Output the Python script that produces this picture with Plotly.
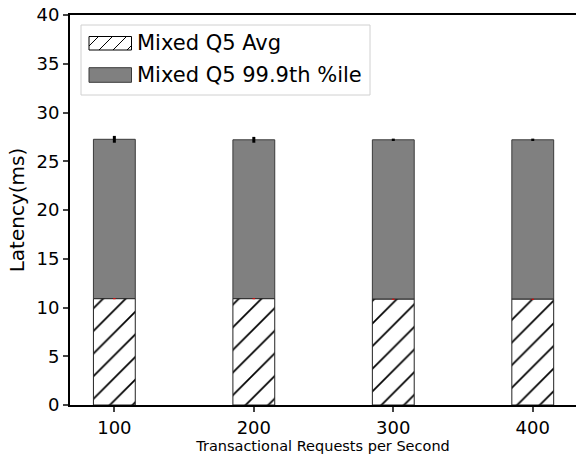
import plotly.graph_objects as go

rps = [100, 200, 300, 400]
avg_latency = [10.9, 10.9, 10.85, 10.85]
avg_err = [0.05, 0.05, 0.05, 0.05]
p999_latency = [27.25, 27.2, 27.2, 27.2]
p999_err = [0.35, 0.3, 0.12, 0.12]
tick_vals = [100, 200, 300, 400]
tick_text = ["100", "200", "300", "400"]
series_names = ["Mixed Q5 Avg", "Mixed Q5 99.9th %ile"]

W, H = 576, 459
L, R, T, B = 70, 0, 15, 54
PW, PH = W - L - R, H - T - B


def px(xp):
    return (xp - L) / PW


def py(yp):
    return (H - B - yp) / PH


fig = go.Figure()
fig.add_trace(go.Bar(
    x=rps, y=[p - a for p, a in zip(p999_latency, avg_latency)], base=avg_latency,
    width=30, name=series_names[1], showlegend=False,
    marker=dict(color="#808080", line=dict(color="#3a3a3a", width=1)),
    error_y=dict(type="data", array=p999_err, color="black", thickness=3, width=0),
))
fig.add_trace(go.Bar(
    x=rps, y=avg_latency, width=30, name=series_names[0], showlegend=False,
    marker=dict(color="white", line=dict(color="#222222", width=1),
                pattern=dict(shape="/", fgcolor="black", fgopacity=1, bgcolor="white",
                             size=16, solidity=0.11)),
    error_y=dict(type="data", array=avg_err, color="red", thickness=2.5, width=0),
))

# legend drawn by hand (matplotlib-style wide patches)
shapes = []
annotations = []
shapes.append(dict(type="rect", xref="paper", yref="paper",
                   x0=px(81), x1=px(370), y0=py(95), y1=py(25),
                   line=dict(color="#d0d0d0", width=1), fillcolor="rgba(255,255,255,0.85)", layer="above"))
sx0, sx1, sy0, sy1 = 89, 131.5, 36.5, 50
shapes.append(dict(type="rect", xref="paper", yref="paper",
                   x0=px(sx0), x1=px(sx1), y0=py(sy1), y1=py(sy0),
                   line=dict(color="black", width=1), fillcolor="white", layer="above"))
h = sy1 - sy0
for off in [-4, 10, 24, 38]:
    xa, xb = sx0 + off, sx0 + off + h
    ya, yb = sy1, sy0
    if xa < sx0:
        ya = sy1 - (sx0 - xa)
        xa = sx0
    if xb > sx1:
        yb = sy0 + (xb - sx1)
        xb = sx1
    shapes.append(dict(type="line", xref="paper", yref="paper",
                       x0=px(xa), x1=px(xb), y0=py(ya), y1=py(yb),
                       line=dict(color="black", width=1), layer="above"))
shapes.append(dict(type="rect", xref="paper", yref="paper",
                   x0=px(sx0), x1=px(sx1), y0=py(82.3), y1=py(67.7),
                   line=dict(color="#3a3a3a", width=1), fillcolor="#808080", layer="above"))
for name, yc in zip(series_names, [43.3, 75]):
    annotations.append(dict(xref="paper", yref="paper", x=px(134.5), y=py(yc),
                            xanchor="left", yanchor="middle", showarrow=False,
                            text=name, font=dict(size=21, color="black")))

fig.update_layout(
    width=W, height=H,
    barmode="overlay",
    plot_bgcolor="white", paper_bgcolor="white",
    margin=dict(l=L, r=R, t=T, b=B, autoexpand=False),
    font=dict(family="DejaVu Sans", color="black", size=18),
    showlegend=False,
    shapes=shapes, annotations=annotations,
    xaxis=dict(range=[68.2, 431], tickvals=tick_vals, ticktext=tick_text,
               showline=True, linecolor="black", linewidth=2, mirror=True,
               ticks="outside", ticklen=5, tickwidth=1.5, showgrid=False, zeroline=False,
               automargin=False,
               title=dict(text="Transactional Requests per Second", font=dict(size=14.5), standoff=4),
               tickfont=dict(size=18)),
    yaxis=dict(range=[0, 40], dtick=5,
               showline=True, linecolor="black", linewidth=2, mirror=False,
               ticks="outside", ticklen=5, tickwidth=1.5, showgrid=False, zeroline=False,
               automargin=False,
               title=dict(text="Latency(ms)", font=dict(size=20), standoff=6),
               tickfont=dict(size=18)),
)

fig.write_html("out.html", config={"displayModeBar": False},
               post_script="document.body.style.margin='0';document.body.style.padding='0';")
